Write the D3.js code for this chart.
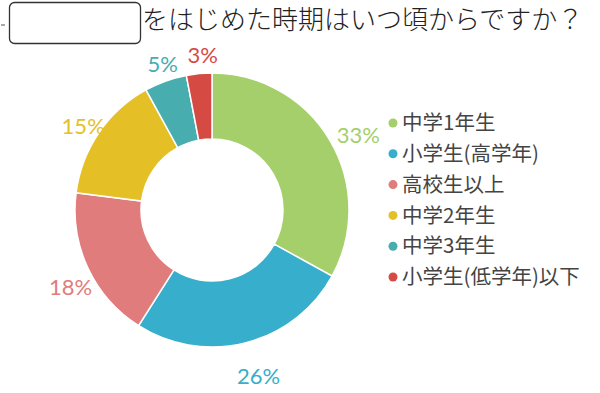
<!DOCTYPE html>
<html>
<head>
<meta charset="utf-8">
<script src="https://cdnjs.cloudflare.com/ajax/libs/d3/7.8.5/d3.min.js"></script>
<style>
  body { margin: 0; background: #fff; }
  svg { display: block; }
</style>
</head>
<body>
<svg width="600" height="393"></svg>
<script>
  // data
  var categories = ["中学1年生", "小学生(高学年)", "高校生以上", "中学2年生", "中学3年生", "小学生(低学年)以下"];
  var values = [33, 26, 18, 15, 5, 3];
  var colors = ["#a4cf6a", "#37aecb", "#e07c7b", "#e5bf26", "#47adaf", "#d64a44"];
  var titleText = "をはじめた時期はいつ頃からですか？";

  var svg = d3.select("svg");
  var cx = 212, cy = 210, outerR = 137, innerR = 71;

  // title with blank box
  svg.append("line")
    .attr("x1", 1).attr("x2", 5).attr("y1", 25).attr("y2", 25)
    .attr("stroke", "#555").attr("stroke-width", 1);
  svg.append("rect")
    .attr("x", 9.5).attr("y", 2.5).attr("width", 131).attr("height", 41)
    .attr("rx", 5).attr("fill", "#fff")
    .attr("stroke", "#333").attr("stroke-width", 1.3);
  svg.append("text")
    .attr("x", 142).attr("y", 29)
    .attr("font-family", "'Noto Sans CJK JP', sans-serif")
    .attr("font-size", 26)
    .attr("font-weight", 300)
    .attr("fill", "#222")
    .text(titleText);

  var pie = d3.pie().sort(null).value(function(d){ return d; });
  var arcs = pie(values);
  var arc = d3.arc().innerRadius(innerR).outerRadius(outerR);
  var labelArc = d3.arc().innerRadius(163).outerRadius(163);

  var g = svg.append("g").attr("transform", "translate(" + cx + "," + cy + ")");

  g.selectAll("path.slice")
    .data(arcs)
    .enter().append("path")
    .attr("class", "slice")
    .attr("d", arc)
    .attr("fill", function(d, i){ return colors[i]; })
    .attr("stroke", "#fff")
    .attr("stroke-width", 1.5);

  g.selectAll("text.pct")
    .data(arcs)
    .enter().append("text")
    .attr("class", "pct")
    .attr("transform", function(d){
      var p = labelArc.centroid(d);
      return "translate(" + (p[0] + 6) + "," + (p[1] + 8) + ")";
    })
    .attr("text-anchor", "middle")
    .attr("dy", "0.35em")
    .attr("font-family", "Lato, 'Open Sans', sans-serif")
    .attr("font-size", 22)
    .attr("fill", function(d, i){ return colors[i]; })
    .text(function(d){ return d.data + "%"; });

  // legend
  var legend = svg.append("g").attr("transform", "translate(393,123)");
  var rows = legend.selectAll("g")
    .data(categories)
    .enter().append("g")
    .attr("transform", function(d, i){ return "translate(0," + (i * 30.8) + ")"; });
  rows.append("circle")
    .attr("r", 4.5)
    .attr("fill", function(d, i){ return colors[i]; });
  rows.append("text")
    .attr("x", 9)
    .attr("dy", "0.35em")
    .attr("font-family", "'Noto Sans CJK JP', sans-serif")
    .attr("font-size", 20.5)
    .attr("fill", "#444")
    .text(function(d){ return d; });
</script>
</body>
</html>
